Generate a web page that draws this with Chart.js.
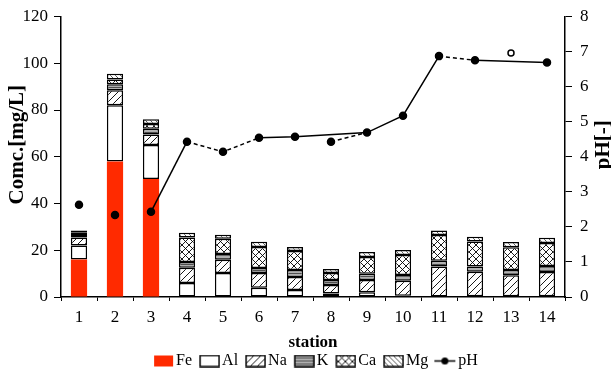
<!DOCTYPE html>
<html>
<head>
<meta charset="utf-8">
<script src="https://cdn.jsdelivr.net/npm/chart.js@4.4.0/dist/chart.umd.min.js"></script>
<style>
  html, body { margin: 0; padding: 0; background: #fff; }
  #wrap { width: 611px; height: 371px; }
</style>
</head>
<body>
<div id="wrap"><canvas id="chart"></canvas></div>
<script>
let stations = ["1", "2", "3", "4", "5", "6", "7", "8", "9", "10", "11", "12", "13", "14"];

// concentrations [mg/L], stacked bottom to top
let fe = [16, 58, 50.5, 0, 0, 0, 0, 0, 0, 0, 0, 0, 0, 0];
let al = [6, 24, 14.5, 6, 10.3, 4, 3, 1.5, 2, 0.5, 0, 0.3, 0.3, 0.3];
let na = [3.5, 6.5, 4.5, 6.5, 5.6, 6.3, 5.6, 3.6, 5.3, 6.4, 13, 10.5, 9, 10.4];
let k = [1, 2.5, 2.5, 2.5, 2.5, 2.1, 3, 2.2, 2.6, 2.5, 2.5, 2.2, 2.2, 2.6];
let ca = [1, 2, 2, 10.5, 6.5, 9, 8.1, 3, 7.2, 8.6, 11, 10.7, 9.8, 9.8];
let mg = [1, 2.5, 2, 2, 1.7, 2.2, 1.7, 1.7, 2.2, 2.1, 2, 2.1, 2.2, 2.2];

// pH [-]
let ph = [2.63, 2.34, 2.43, 4.43, 4.14, 4.54, 4.57, 4.43, 4.69, 5.17, 6.87, 6.75, 6.96, 6.69];

let concTicks = [0, 20, 40, 60, 80, 100, 120];
let phTicks = [0, 1, 2, 3, 4, 5, 6, 7, 8];

const FONT = "'Liberation Serif', 'DejaVu Serif', serif";
const RED = "#ff2a00";

/////////// PATTERNS /////////////

function makePattern(kind) {
    const s = kind === "K" ? 3 : (kind === "Mg" ? 5 : 7);
    const c = document.createElement("canvas");
    c.width = s; c.height = s;
    const g = c.getContext("2d");
    g.fillStyle = "#fff";
    g.fillRect(0, 0, s, s);
    g.strokeStyle = "#000";
    g.lineWidth = 0.9;
    const slash = () => {
        g.beginPath();
        g.moveTo(0, s); g.lineTo(s, 0);
        g.moveTo(-1, 1); g.lineTo(1, -1);
        g.moveTo(s - 1, s + 1); g.lineTo(s + 1, s - 1);
        g.stroke();
    };
    const back = () => {
        g.beginPath();
        g.moveTo(0, 0); g.lineTo(s, s);
        g.moveTo(-1, s - 1); g.lineTo(1, s + 1);
        g.moveTo(s - 1, -1); g.lineTo(s + 1, 1);
        g.stroke();
    };
    if (kind === "Na") slash();
    if (kind === "Ca") { slash(); back(); }
    if (kind === "Mg") { g.strokeStyle = "#444"; back(); }
    if (kind === "K") {
        g.fillStyle = "#b0b0b0"; g.fillRect(0, 0, s, s);
        g.fillStyle = "#505050"; g.fillRect(0, 0, s, 1);
    }
    return g.createPattern(c, "repeat");
}

const fills = {
    Fe: RED,
    Al: "#ffffff",
    Na: makePattern("Na"),
    K: makePattern("K"),
    Ca: makePattern("Ca"),
    Mg: makePattern("Mg"),
};

// legend icons: transparent left part gives the gap between items
function legendBox(name) {
    const c = document.createElement("canvas");
    c.width = 32; c.height = 13;
    const g = c.getContext("2d");
    g.fillStyle = fills[name];
    g.fillRect(12, 1, 19, 11);
    if (name !== "Fe") {
        g.strokeStyle = "#000";
        g.lineWidth = 1.5;
        g.strokeRect(12, 1, 19, 11);
    }
    return c;
}

function legendLine() {
    const c = document.createElement("canvas");
    c.width = 32; c.height = 13;
    const g = c.getContext("2d");
    g.strokeStyle = "#000";
    g.lineWidth = 1.5;
    g.beginPath(); g.moveTo(10, 6.5); g.lineTo(31, 6.5); g.stroke();
    g.fillStyle = "#000";
    g.beginPath(); g.arc(20.5, 6.5, 3.5, 0, Math.PI * 2); g.fill();
    return c;
}

/////////// DATASETS /////////////

function barSet(name, values) {
    return {
        type: "bar",
        label: name,
        data: values,
        backgroundColor: fills[name],
        borderColor: "#000",
        borderWidth: name === "Fe" ? 0 : 1.5,
        borderSkipped: false,
        stack: "conc",
        yAxisID: "y",
        barPercentage: 0.9,
        categoryPercentage: 0.5,
        order: 2,
        legendIcon: legendBox(name),
    };
}

// segment styling for the main pH line (index = start point of segment)
let phHidden = [0, 1];
let phDashed = [3, 4, 10, 11];

let phMain = ph.map((v, i) => (i === 7 || i === 12) ? null : v);
let phStation8 = ph.map((v, i) => (i === 7 || i === 8) ? v : null);
let phStation13 = ph.map((v, i) => i === 12 ? v : null);

let datasets = [
    barSet("Fe", fe),
    barSet("Al", al),
    barSet("Na", na),
    barSet("K", k),
    barSet("Ca", ca),
    barSet("Mg", mg),
    {
        type: "line",
        label: "pH",
        data: phMain,
        yAxisID: "y1",
        borderColor: "#000",
        borderWidth: 1.5,
        pointRadius: 3.5,
        pointBackgroundColor: "#000",
        pointBorderColor: "#000",
        spanGaps: true,
        order: 0,
        legendIcon: legendLine(),
        segment: {
            borderColor: ctx => phHidden.includes(ctx.p0DataIndex) ? "rgba(0,0,0,0)" : "#000",
            borderDash: ctx => phDashed.includes(ctx.p0DataIndex) ? [4, 3] : undefined,
        },
    },
    {
        type: "line",
        label: "pH8",
        data: phStation8,
        yAxisID: "y1",
        borderColor: "#000",
        borderWidth: 1.5,
        borderDash: [4, 3],
        pointRadius: ctx => ctx.dataIndex === 7 ? 3.5 : 0,
        pointBackgroundColor: "#000",
        order: 0,
    },
    {
        type: "line",
        label: "pH13",
        data: phStation13,
        yAxisID: "y1",
        showLine: false,
        pointRadius: 3,
        pointBorderWidth: 1.5,
        pointBackgroundColor: "#fff",
        pointBorderColor: "#000",
        order: 0,
    },
];

/////////// AXIS TITLES (both read bottom to top) /////////////

const verticalTitles = {
    id: "verticalTitles",
    afterDraw(chart) {
        const a = chart.chartArea;
        const g = chart.ctx;
        const midY = (a.top + a.bottom) / 2 - 12;
        g.save();
        g.fillStyle = "#000";
        g.font = "bold 21px " + FONT;
        g.textAlign = "center";
        g.textBaseline = "middle";
        [["Comc.[mg/L]", a.left - 43.5], ["pH[-]", a.right + 39]].forEach(([text, x]) => {
            g.save();
            g.translate(x, midY);
            g.rotate(-Math.PI / 2);
            g.fillText(text, 0, 0);
            g.restore();
        });
        g.restore();
    },
};

/////////// CHART /////////////

const tickFont = { family: FONT, size: 17, lineHeight: 1 };

new Chart(document.getElementById("chart"), {
    data: { labels: stations, datasets: datasets },
    plugins: [verticalTitles],
    options: {
        responsive: true,
        maintainAspectRatio: false,
        animation: false,
        layout: { padding: { left: 22.5, right: 22, top: 8, bottom: 0 } },
        plugins: {
            tooltip: { enabled: false },
            legend: {
                position: "bottom",
                fullSize: false,
                maxHeight: 20,
                labels: {
                    color: "#000",
                    font: { family: FONT, size: 16 },
                    usePointStyle: true,
                    pointStyleWidth: 20,
                    padding: 2,
                    generateLabels: chart => chart.data.datasets
                        .map((d, i) => ({ d, i }))
                        .filter(o => o.d.legendIcon)
                        .map(o => ({
                            text: o.d.label,
                            pointStyle: o.d.legendIcon,
                            datasetIndex: o.i,
                            fillStyle: "#fff",
                            strokeStyle: "#000",
                            lineWidth: 0,
                            fontColor: "#000",
                            hidden: false,
                        })),
                },
            },
        },
        scales: {
            x: {
                stacked: true,
                afterFit: s => { s.height = 54; },
                grid: { display: true, drawOnChartArea: false, color: "#000", tickLength: 4, offset: true },
                border: { display: true, color: "#000", width: 1.5 },
                ticks: { color: "#000", font: tickFont, padding: 8, maxRotation: 0 },
                title: {
                    display: true, text: "station", color: "#000",
                    font: { family: FONT, size: 17, weight: "bold", lineHeight: 1 },
                    padding: { top: 8, bottom: 0 },
                },
            },
            y: {
                stacked: true,
                position: "left",
                min: concTicks[0],
                max: concTicks[concTicks.length - 1],
                afterFit: s => { s.width = 38.5; },
                afterBuildTicks: axis => { axis.ticks = concTicks.map(v => ({ value: v })); },
                grid: { display: true, drawOnChartArea: false, color: "#000", tickLength: 7 },
                border: { display: true, color: "#000", width: 1.5 },
                ticks: { color: "#000", font: tickFont, padding: 6 },
            },
            y1: {
                position: "right",
                min: phTicks[0],
                max: phTicks[phTicks.length - 1],
                afterFit: s => { s.width = 24; },
                afterBuildTicks: axis => { axis.ticks = phTicks.map(v => ({ value: v })); },
                grid: { display: true, drawOnChartArea: false, color: "#000", tickLength: 7 },
                border: { display: true, color: "#000", width: 1.5 },
                ticks: { color: "#000", font: tickFont, padding: 8 },
            },
        },
    },
});
</script>
</body>
</html>
